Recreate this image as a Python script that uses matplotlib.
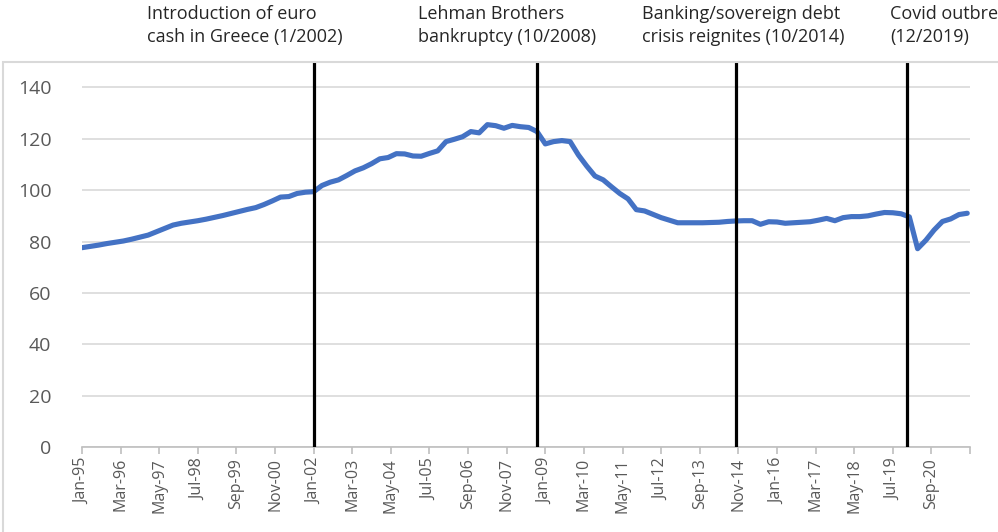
import matplotlib.pyplot as plt
from matplotlib.patches import Rectangle

# quarterly index values, Q1 1995 .. Q4 2021
values = [
    77.6, 78.1, 78.6, 79.2, 79.7, 80.2, 80.9, 81.7, 82.5, 83.8,
    85.1, 86.4, 87.1, 87.6, 88.1, 88.7, 89.4, 90.1, 90.9, 91.7,
    92.5, 93.2, 94.4, 95.8, 97.3, 97.5, 98.7, 99.2, 99.4, 101.8,
    103.1, 104.0, 105.7, 107.5, 108.7, 110.3, 112.2, 112.7, 114.2, 114.1,
    113.3, 113.2, 114.3, 115.3, 118.9, 119.8, 120.8, 122.8, 122.3, 125.5,
    125.1, 124.1, 125.2, 124.7, 124.4, 122.8, 118.0, 118.9, 119.3, 118.9,
    113.7, 109.4, 105.5, 104.0, 101.3, 98.7, 96.6, 92.4, 91.9, 90.6,
    89.3, 88.3, 87.3, 87.3, 87.3, 87.3, 87.4, 87.5, 87.8, 88.0,
    88.1, 88.1, 86.7, 87.7, 87.6, 87.1, 87.3, 87.5, 87.7, 88.3,
    89.0, 88.1, 89.3, 89.7, 89.7, 90.0, 90.7, 91.3, 91.2, 90.8,
    89.6, 77.2, 80.5, 84.5, 87.8, 88.8, 90.5, 91.0,
]
months = [3 * i for i in range(len(values))]  # months since Jan-95

tick_labels = ['Jan-95', 'Mar-96', 'May-97', 'Jul-98', 'Sep-99', 'Nov-00',
               'Jan-02', 'Mar-03', 'May-04', 'Jul-05', 'Sep-06', 'Nov-07',
               'Jan-09', 'Mar-10', 'May-11', 'Jul-12', 'Sep-13', 'Nov-14',
               'Jan-16', 'Mar-17', 'May-18', 'Jul-19', 'Sep-20', '']
tick_pos = [14 * i for i in range(len(tick_labels))]

# events: months since Jan-95
event_months = [84, 165, 237, 299]
event_texts = ['Introduction of euro\ncash in Greece (1/2002)',
               'Lehman Brothers\nbankruptcy (10/2008)',
               'Banking/sovereign debt\ncrisis reignites (10/2014)',
               'Covid outbreak\n(12/2019)']
event_text_x = [147, 418, 642, 890]  # left edge of labels, pixels

plt.rcParams['font.family'] = ['Open Sans', 'DejaVu Sans']

W, H = 998, 532
fig = plt.figure(figsize=(W / 100, H / 100), dpi=100)
ax = fig.add_axes([82 / W, (H - 447) / H, (970 - 82) / W, (447 - 63) / H])

# chart border
fig.patches.append(Rectangle((3 / W, -0.05), 1.2, (H - 62) / H + 0.05,
                             transform=fig.transFigure, fill=False,
                             edgecolor='#d9d9d9', linewidth=1.5))

ax.set_xlim(0, 322)
ax.set_ylim(0, 149.5)
ax.set_yticks(range(0, 141, 20))
ax.yaxis.grid(True, color='#d9d9d9', linewidth=1.2)
ax.set_axisbelow(True)

ax.plot(months, values, color='#4472c4', linewidth=3.7, solid_capstyle='round',
        solid_joinstyle='round', zorder=3)

for m in event_months:
    ax.axvline(m, color='black', linewidth=2.3, zorder=4)

for t, xp in zip(event_texts, event_text_x):
    fig.text(xp / W, 1 - 5 / H, t, ha='left', va='top', fontsize=13,
             color='#262626', linespacing=1.35)

for s in ['top', 'right', 'left']:
    ax.spines[s].set_visible(False)
ax.spines['bottom'].set_color('#bfbfbf')
ax.spines['bottom'].set_linewidth(1.2)

ax.set_xticks(tick_pos)
ax.set_xticklabels(tick_labels, rotation=90, fontsize=11.5, color='#595959')
ax.tick_params(axis='x', length=5, color='#bfbfbf', width=1.2, pad=3)
ax.tick_params(axis='y', length=0, labelsize=14, labelcolor='#595959', pad=22)

fig.savefig('out.png', dpi=100)
